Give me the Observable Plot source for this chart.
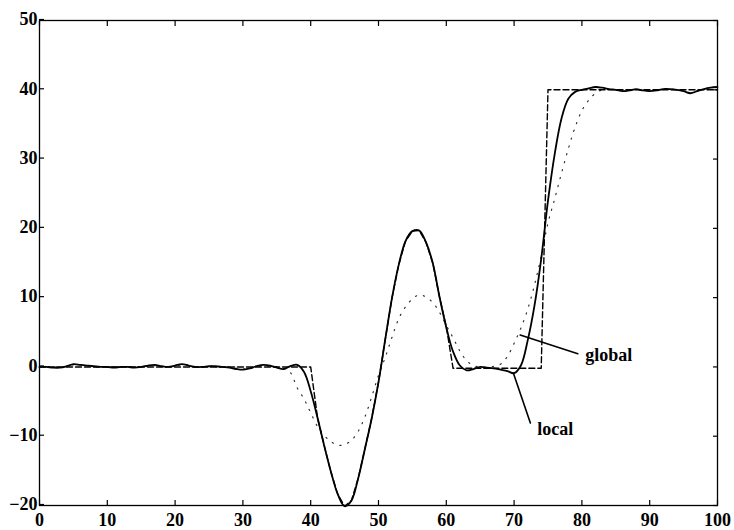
<!DOCTYPE html>
<html>
<head>
<meta charset="utf-8">
<script src="https://cdn.jsdelivr.net/npm/d3@7"></script>
<script src="https://cdn.jsdelivr.net/npm/@observablehq/plot@0.6"></script>
<style>
  html, body { margin: 0; padding: 0; background: #fff; }
  svg text { font-family: "Liberation Serif", "DejaVu Serif", serif; }
</style>
</head>
<body>
<div id="chart"></div>
<script>
// x positions (sample index)
const xs = d3.range(0, 101);

// solid curve ("local")
const localY = [
  0, 0, -0.1, -0.1, 0.1, 0.4, 0.3, 0.2, 0.1, 0, 0,
  -0.1, 0, 0, -0.1, 0, 0.2, 0.3, 0.1, 0, 0.2,
  0.4, 0.2, 0, 0, 0.1, 0.1, 0, -0.1, -0.3, -0.4,
  -0.2, 0.1, 0.3, 0.2, -0.1, -0.3, 0.1, 0.3, -0.7, -3.5,
  -7.3, -11.4, -15.2, -18.4, -20.1, -19.3, -16.1, -11.8, -7.4, -2.2,
  4.0, 10.0, 14.8, 18.2, 19.6, 19.7, 18.0, 15.0, 10.1, 5.7,
  2.2, 0.2, -0.5, -0.3, 0, -0.1, -0.2, -0.4, -0.6, -0.9,
  0.2, 3.8, 8.8, 15.6, 24.0, 30.8, 35.9, 38.7, 39.7, 40.0,
  40.2, 40.4, 40.3, 40.1, 40.0, 39.8, 39.9, 40.1, 39.9, 39.8,
  39.9, 40.1, 40.1, 40.0, 39.8, 39.5, 39.8, 40.1, 40.3, 40.4
];

// dotted curve ("global")
const globalY = [
  0, 0, 0, 0, 0.1, 0.3, 0.3, 0.2, 0.1, 0, 0,
  0, 0, 0, 0, 0, 0.1, 0.2, 0.1, 0, 0.1,
  0.3, 0.2, 0, 0, 0.1, 0.1, 0, 0, -0.2, -0.3,
  -0.2, 0, 0.2, 0.1, 0, -0.2, -0.8, -3.0, -4.6, -6.6,
  -8.6, -9.9, -10.8, -11.3, -11.2, -10.6, -9.3, -7.2, -4.3, -1.2,
  1.4, 4.3, 7.0, 8.7, 9.8, 10.4, 10.1, 9.3, 7.9, 6.0,
  4.2, 2.3, 0.9, 0.2, 0, 0, 0.1, 0.4, 1.5, 3.4,
  5.6, 8.3, 11.8, 16.0, 20.8, 24.3, 28.0, 31.5, 34.6, 37.0,
  38.5, 39.5, 40.0, 40.1, 40.0, 39.8, 39.9, 40.1, 39.9, 39.8,
  39.9, 40.1, 40.1, 40.0, 39.8, 39.6, 39.8, 40.1, 40.3, 40.4
];

// dashed curve (reference / target)
const targetY = [
  0, 0, 0, 0, 0, 0, 0, 0, 0, 0, 0,
  0, 0, 0, 0, 0, 0, 0, 0, 0, 0,
  0, 0, 0, 0, 0, 0, 0, 0, 0, 0,
  0, 0, 0, 0, 0, 0, 0, 0, 0, 0,
  -7.3, -11.4, -15.2, -18.4, -20.1, -19.3, -16.1, -11.8, -7.4, -2.2,
  4.0, 10.0, 14.8, 18.2, 19.6, 19.7, 18.0, 15.0, 10.1, 5.8,
  -0.2, -0.2, -0.2, -0.2, -0.2, -0.2, -0.2, -0.2, -0.2, -0.2,
  -0.2, -0.2, -0.2, -0.2, 40, 40, 40, 40, 40, 40,
  40, 40, 40, 40, 40, 40, 40, 40, 40, 40,
  40, 40, 40, 40, 40, 40, 40, 40, 40, 40
];

const xTicks = [0, 10, 20, 30, 40, 50, 60, 70, 80, 90, 100];
const yTicks = [-20, -10, 0, 10, 20, 30, 40, 50];

// annotations: leader lines and labels
const annoLabels = ["global", "local"];
const annoLineX = [[70.9, 79.4], [69.9, 72.4]];
const annoLineY = [[4.6, 1.9], [-0.9, -8.1]];
const annoTextX = [80.5, 73.4];
const annoTextY = [1.7, -9.0];

const toRows = (ys) => xs.map((x, i) => ({x, y: ys[i]}));
const leaderRows = annoLabels.flatMap((lab, k) =>
  annoLineX[k].map((x, j) => ({lab, x, y: annoLineY[k][j]})));
const labelRows = annoLabels.map((lab, k) => ({lab, x: annoTextX[k], y: annoTextY[k]}));

const font = {fontSize: 18, fontWeight: "bold", fill: "#000"};

const chart = Plot.plot({
  width: 734,
  height: 530,
  marginLeft: 39,
  marginRight: 17,
  marginTop: 20,
  marginBottom: 25,
  style: {fontFamily: "Liberation Serif, serif", fontSize: "18px", fontWeight: "bold", background: "#fff", color: "#000"},
  x: {domain: [0, 100]},
  y: {domain: [-20, 50]},
  marks: [
    Plot.frame({stroke: "#000", strokeWidth: 1.3}),
    Plot.axisX({anchor: "bottom", ticks: xTicks, tickSize: 0, tickPadding: 4, dy: 4, label: null, fontSize: 18, fontWeight: "bold"}),
    Plot.axisX({anchor: "bottom", ticks: xTicks, tickSize: -5, tickFormat: () => "", label: null, strokeWidth: 1.2}),
    Plot.axisX({anchor: "top", ticks: xTicks, tickSize: -5, tickFormat: () => "", label: null, strokeWidth: 1.2}),
    Plot.axisY({anchor: "left", ticks: yTicks, tickSize: -5, tickPadding: 7, dy: -1, label: null, fontSize: 18, fontWeight: "bold", strokeWidth: 1.2}),
    Plot.axisY({anchor: "right", ticks: yTicks, tickSize: -5, tickFormat: () => "", label: null, strokeWidth: 1.2}),
    Plot.line(toRows(globalY), {x: "x", y: "y", stroke: "#333", strokeWidth: 1.2, strokeDasharray: "1.2,7", curve: "catmull-rom"}),
    Plot.line(toRows(targetY), {x: "x", y: "y", stroke: "#000", strokeWidth: 1.4, strokeDasharray: "6,3"}),
    Plot.line(toRows(localY), {x: "x", y: "y", stroke: "#000", strokeWidth: 1.8, curve: "catmull-rom"}),
    Plot.line(leaderRows, {x: "x", y: "y", z: "lab", stroke: "#000", strokeWidth: 1.6}),
    Plot.text(labelRows, {x: "x", y: "y", text: "lab", textAnchor: "start", ...font})
  ]
});
document.getElementById("chart").appendChild(chart);
</script>
</body>
</html>
